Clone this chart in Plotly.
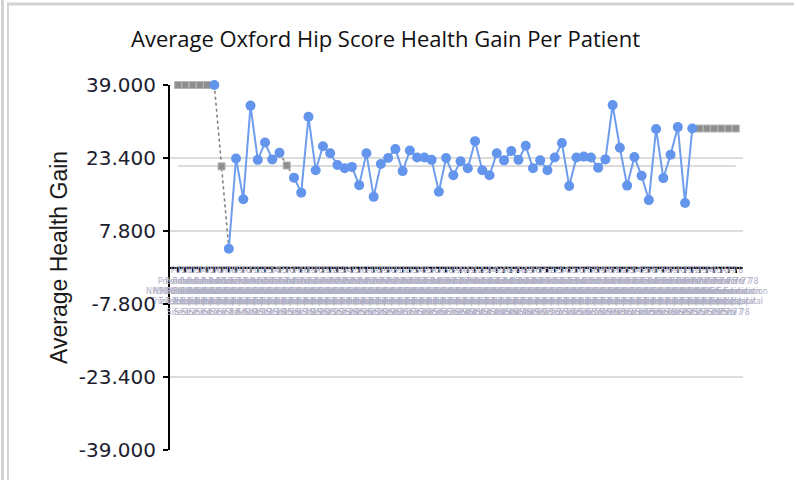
import plotly.graph_objects as go

# ---------------- data ----------------
chart_title = "Average Oxford Hip Score Health Gain Per Patient"
y_axis_title = "Average Health Gain"

# one entry per provider (78 categories); None = no data (drawn as an empty point)
health_gain = [
    None, None, None, None, None, 39.0, None, 4.0, 23.3, 14.6,
    34.6, 23.0, 26.7, 23.1, 24.5, None, 19.2, 16.0, 32.2, 20.8,
    25.9, 24.4, 21.9, 21.2, 21.5, 17.6, 24.4, 15.1, 22.1, 23.4,
    25.3, 20.6, 25.0, 23.5, 23.5, 23.0, 16.2, 23.4, 19.7, 22.7,
    21.2, 27.0, 20.8, 19.7, 24.4, 22.9, 24.9, 23.0, 26.0, 21.2,
    22.9, 20.8, 23.5, 26.6, 17.4, 23.5, 23.7, 23.5, 21.3, 23.1,
    34.7, 25.6, 17.5, 23.6, 19.6, 14.4, 29.6, 19.1, 24.1, 30.0,
    13.8, 29.7, None, None, None, None, None, None,
]

# values at which the empty points are drawn
empty_point_values = [
    39.0, 39.0, 39.0, 39.0, 39.0, None, 21.6, None, None, None,
    None, None, None, None, None, 21.8, None, None, None, None,
    None, None, None, None, None, None, None, None, None, None,
    None, None, None, None, None, None, None, None, None, None,
    None, None, None, None, None, None, None, None, None, None,
    None, None, None, None, None, None, None, None, None, None,
    None, None, None, None, None, None, None, None, None, None,
    None, None, 29.7, 29.7, 29.7, 29.7, 29.7, 29.7,
]

average_line_value = 21.7

provider_labels = [
    f"P{i + 1:02d}<br>Provider {i + 1}<br>NHS Foundation<br>Trust Hospital<br>Site {i + 1}"
    for i in range(len(health_gain))
]

y_tick_values = [-39.0, -23.4, -7.8, 7.8, 23.4, 39.0]
y_tick_labels = [f"{v:.3f}" for v in y_tick_values]

# ---------------- figure ----------------
n = len(health_gain)
idx = list(range(n))

# dotted connector through each empty point, joining the neighbouring real values
conn_y = [None] * n
for i, ev in enumerate(empty_point_values):
    if ev is None:
        continue
    conn_y[i] = ev
    for j in (i - 1, i + 1):
        if 0 <= j < n and health_gain[j] is not None:
            conn_y[j] = health_gain[j]

fig = go.Figure()

fig.add_trace(go.Scatter(
    x=[0, n - 1], y=[average_line_value, average_line_value], mode="lines",
    line=dict(color="#cfcfcf", width=1.5), hoverinfo="skip", showlegend=False,
))

fig.add_trace(go.Scatter(
    x=idx, y=conn_y, mode="lines", connectgaps=False,
    line=dict(color="#7a7a7a", width=1.5, dash="dot"),
    showlegend=False, cliponaxis=False,
))

fig.add_trace(go.Scatter(
    x=idx, y=empty_point_values, mode="markers",
    marker=dict(symbol="square", size=7, color="#8e8e8e",
                line=dict(color="#b4b4b4", width=1)),
    showlegend=False, cliponaxis=False,
))

fig.add_trace(go.Scatter(
    x=idx, y=health_gain, mode="lines+markers", connectgaps=False,
    line=dict(color="#6f9ded", width=2),
    marker=dict(size=10, color="#6495ED"),
    showlegend=False, cliponaxis=False,
))

L, R, T, B = 170, 54, 85, 30
W, H = 797, 480
pw, ph = W - L - R, H - T - B


def px(x):
    return (x - L) / pw


def py(y):
    return (H - B - y) / ph


fig.update_layout(
    width=W, height=H,
    margin=dict(l=L, r=R, t=T, b=B, pad=0),
    paper_bgcolor="white", plot_bgcolor="white",
    showlegend=False,
    xaxis=dict(
        range=[-1.12, 78.0], anchor="free", position=0.5,
        tickmode="array", tickvals=idx, ticktext=provider_labels,
        tickangle=0, ticks="outside", ticklen=4, tickwidth=1.5, tickcolor="black",
        ticklabelstandoff=-9,
        showline=True, linecolor="black", linewidth=2,
        showgrid=False, zeroline=False,
        tickfont=dict(family="DejaVu Sans", size=8, color="#b0b0c6"),
    ),
    yaxis=dict(
        range=[-39, 39], tickmode="array", tickvals=y_tick_values, ticktext=y_tick_labels,
        ticks="outside", ticklen=5, tickwidth=1.5, tickcolor="black",
        ticklabelstandoff=3,
        showline=True, linecolor="black", linewidth=2,
        showgrid=True, gridcolor="#dcdcdc", gridwidth=1.5, zeroline=False,
        tickfont=dict(family="DejaVu Sans", size=20, color="#1d1d30"),
    ),
    annotations=[
        dict(text=chart_title, xref="paper", yref="paper", x=px(385), y=py(38),
             xanchor="center", yanchor="middle", showarrow=False,
             font=dict(family="Open Sans", size=22, color="#111111")),
        dict(text=y_axis_title, xref="paper", yref="paper", x=px(59), y=py(258),
             xanchor="center", yanchor="middle", textangle=-90, showarrow=False,
             font=dict(family="Liberation Sans", size=23, color="#1a1a1a")),
    ],
    shapes=[
        dict(type="line", xref="paper", yref="paper", x0=px(2.5), x1=px(2.5), y0=py(0), y1=py(480),
             line=dict(color="#d3d3d3", width=3)),
        dict(type="line", xref="paper", yref="paper", x0=px(8), x1=px(8), y0=py(2), y1=py(480),
             line=dict(color="#d3d3d3", width=2)),
        dict(type="line", xref="paper", yref="paper", x0=px(7), x1=px(794), y0=py(4), y1=py(4),
             line=dict(color="#d3d3d3", width=3)),
    ],
)

fig.write_html("out.html", config={"displayModeBar": False},
               post_script="document.body.style.margin='0';")
